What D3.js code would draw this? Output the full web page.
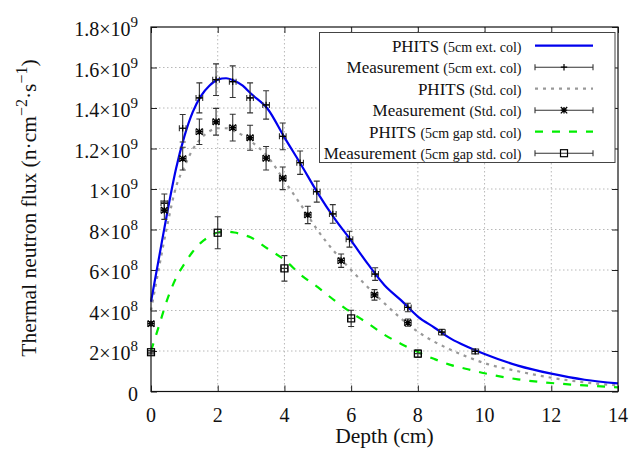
<!DOCTYPE html>
<html><head><meta charset="utf-8">
<script src="https://cdn.jsdelivr.net/npm/d3@7"></script>
<style>body{margin:0;background:#fff}svg{display:block}text{font-family:"Liberation Serif","Times New Roman",serif;fill:#111}</style>
</head><body><svg id="c" width="634" height="456"></svg>
<script>
// ---- data (flux in units of 1e8 n/cm2/s) ----
const xTicks = [0,2,4,6,8,10,12,14];
const yTicks = [0,2e8,4e8,6e8,8e8,1e9,1.2e9,1.4e9,1.6e9,1.8e9];
const yTickMant = ["0","2","4","6","8","1","1.2","1.4","1.6","1.8"];
const yTickExp  = ["","8","8","8","8","9","9","9","9","9"];

const phitsDepth = [0,0.25,0.5,0.75,1,1.25,1.5,1.75,2,2.25,2.5,2.75,3,3.5,4,4.5,5,5.5,6,6.5,7,7.5,8,8.5,9,9.5,10,11,12,13,14];
const phitsExt = [4.43,6.7,8.95,11.0,12.6,13.8,14.6,15.1,15.4,15.47,15.35,15.1,14.7,13.95,12.55,11.2,9.8,8.55,7.45,6.3,5.25,4.5,3.7,3.15,2.6,2.2,1.85,1.28,0.88,0.58,0.4];
const phitsStd = [4.0,6.2,8.3,10.1,11.1,11.95,12.5,12.85,13.0,13.0,12.85,12.65,12.35,11.6,10.4,9.2,7.95,6.9,6.0,5.15,4.35,3.6,2.95,2.45,2.05,1.7,1.4,1.0,0.68,0.45,0.3];
const phitsGap = [2.0,3.3,4.6,5.6,6.3,6.9,7.35,7.65,7.85,7.9,7.85,7.75,7.6,7.05,6.5,5.75,5.15,4.5,3.9,3.37,2.8,2.35,1.95,1.6,1.3,1.1,0.9,0.6,0.42,0.3,0.2];

const measExtDepth = [0.4,0.95,1.45,1.95,2.45,2.97,3.45,3.95,4.47,4.97,5.45,5.95,6.72,7.7,8.72,9.72];
const measExt      = [9.3,13.0,14.5,15.4,15.3,14.5,14.15,12.6,11.3,9.87,8.77,7.52,5.8,4.15,2.93,1.98];
const measExtErr   = [0.45,0.68,0.74,0.78,0.78,0.74,0.7,0.66,0.58,0.52,0.46,0.39,0.31,0.21,0.14,0.12];

const measStdDepth = [0,0.4,0.95,1.45,1.95,2.45,2.97,3.45,3.95,4.7,5.7,6.7,7.7];
const measStd      = [3.35,8.95,11.5,12.83,13.32,13.03,12.53,11.52,10.53,8.72,6.46,4.77,3.4];
const measStdErr   = [0.1,0.45,0.56,0.63,0.66,0.66,0.62,0.58,0.56,0.43,0.33,0.26,0.18];

const measGapDepth = [0,2.0,4.0,6.0,8.0];
const measGap      = [1.94,7.84,6.08,3.61,1.87];
const measGapErr   = [0.08,0.79,0.63,0.4,0.18];

const depthErr = 0.1;
const unit = 1e8;

// ---- layout ----
const L=151, R=618, T=27, B=391.5;
const svg = d3.select("#c");
const x = d3.scaleLinear().domain([0,14]).range([L,R]);
const y = d3.scaleLinear().domain([0,1.8e9]).range([B,T]);

// grid
const grid = svg.append("g").attr("stroke","#b8b8b8").attr("stroke-width",1).attr("stroke-dasharray","1.5,2.5");
xTicks.slice(1,-1).forEach(t=>grid.append("line").attr("x1",x(t)).attr("x2",x(t)).attr("y1",T).attr("y2",B));
yTicks.slice(1,-1).forEach(t=>grid.append("line").attr("x1",L).attr("x2",R).attr("y1",y(t)).attr("y2",y(t)));

// axes via d3 (ticks inward)
const fmtNone = ()=> "";
svg.append("g").attr("transform",`translate(0,${B})`).call(d3.axisBottom(x).tickValues(xTicks).tickSize(-6).tickFormat(fmtNone)).call(g=>g.select(".domain").remove());
svg.append("g").attr("transform",`translate(0,${T})`).call(d3.axisTop(x).tickValues(xTicks).tickSize(-6).tickFormat(fmtNone)).call(g=>g.select(".domain").remove());
svg.append("g").attr("transform",`translate(${L},0)`).call(d3.axisLeft(y).tickValues(yTicks).tickSize(-6).tickFormat(fmtNone)).call(g=>g.select(".domain").remove());
svg.append("g").attr("transform",`translate(${R},0)`).call(d3.axisRight(y).tickValues(yTicks).tickSize(-6).tickFormat(fmtNone)).call(g=>g.select(".domain").remove());
svg.selectAll(".tick line").attr("stroke","#222");

// tick labels
xTicks.forEach(t=>svg.append("text").attr("x",x(t)).attr("y",B+30).attr("text-anchor","middle").attr("font-size",20).text(t));
yTicks.forEach((t,i)=>{
  const tx = svg.append("text").attr("x",138).attr("y",y(t)+9).attr("text-anchor","end").attr("font-size",20);
  if(yTickExp[i]===""){ tx.text(yTickMant[i]); return; }
  tx.append("tspan").text(yTickMant[i]+"\u00d710");
  tx.append("tspan").attr("dy",-9).attr("font-size",15).text(yTickExp[i]);
});

// axis titles
svg.append("text").attr("x",(L+R)/2).attr("y",443).attr("text-anchor","middle").attr("font-size",21.5).text("Depth (cm)");
const yt = svg.append("text").attr("transform",`translate(36,208) rotate(-90)`).attr("text-anchor","middle").attr("font-size",21.5);
yt.append("tspan").text("Thermal neutron flux (n\u00b7cm");
yt.append("tspan").attr("dy",-9).attr("font-size",16).text("\u22122");
yt.append("tspan").attr("dy",9).text("\u00b7s");
yt.append("tspan").attr("dy",-9).attr("font-size",16).text("\u22121");
yt.append("tspan").attr("dy",9).text(")");

// curves
const line = d3.line().x(d=>x(d[0])).y(d=>y(d[1]*unit)).curve(d3.curveMonotoneX);
const series = [
  {v:phitsStd, color:"#999999", dash:"3,5", w:2.2},
  {v:phitsGap, color:"#00ee00", dash:"8,9", w:2.2},
  {v:phitsExt, color:"#0000ee", dash:null, w:2.2}
];
series.forEach(s=>{
  svg.append("path").datum(phitsDepth.map((d,i)=>[d,s.v[i]])).attr("d",line)
    .attr("fill","none").attr("stroke",s.color).attr("stroke-width",s.w).attr("stroke-dasharray",s.dash);
});

// markers
function marker(g,cx,cy,type){
  const h=3.2;
  if(type==="plus"){
    g.append("path").attr("d",`M${cx-h},${cy}H${cx+h}M${cx},${cy-h}V${cy+h}`).attr("stroke","#000").attr("stroke-width",1.2);
  } else if(type==="star"){
    g.append("path").attr("d",`M${cx-h},${cy}H${cx+h}M${cx},${cy-h}V${cy+h}M${cx-h},${cy-h}L${cx+h},${cy+h}M${cx-h},${cy+h}L${cx+h},${cy-h}`).attr("stroke","#000").attr("stroke-width",1.3);
  } else {
    g.append("rect").attr("x",cx-3.5).attr("y",cy-3.5).attr("width",7).attr("height",7).attr("fill","none").attr("stroke","#000").attr("stroke-width",1.2);
  }
}
function errPoints(dep,val,err,type){
  const g = svg.append("g").attr("stroke","#333").attr("stroke-width",1.1).attr("fill","none");
  dep.forEach((d,i)=>{
    const cx=x(d), cy=y(val[i]*unit), y0=y((val[i]-err[i])*unit), y1=y((val[i]+err[i])*unit);
    const x0=x(d-depthErr), x1=x(d+depthErr), c=3;
    g.append("path").attr("d",`M${cx},${y0}V${y1}M${cx-c},${y0}H${cx+c}M${cx-c},${y1}H${cx+c}M${x0},${cy}H${x1}M${x0},${cy-c}V${cy+c}M${x1},${cy-c}V${cy+c}`);
    marker(g,cx,cy,type);
  });
}
errPoints(measExtDepth,measExt,measExtErr,"plus");
errPoints(measStdDepth,measStd,measStdErr,"star");
errPoints(measGapDepth,measGap,measGapErr,"box");

// frame
svg.append("rect").attr("x",L).attr("y",T).attr("width",R-L).attr("height",B-T).attr("fill","none").attr("stroke","#111").attr("stroke-width",1.2);

// legend
const lg = svg.append("g");
lg.append("rect").attr("x",319.5).attr("y",32.5).attr("width",295.5).attr("height",130).attr("fill","#fff").attr("stroke","#444").attr("stroke-width",1);
const legendItems = [
  {main:"PHITS", sub:"(5cm ext. col)", kind:"line", color:"#0000ee", dash:null},
  {main:"Measurement", sub:"(5cm ext. col)", kind:"plus"},
  {main:"PHITS", sub:"(Std. col)", kind:"line", color:"#999999", dash:"3,5"},
  {main:"Measurement", sub:"(Std. col)", kind:"star"},
  {main:"PHITS", sub:"(5cm gap std. col)", kind:"line", color:"#00ee00", dash:"8,9"},
  {main:"Measurement", sub:"(5cm gap std. col)", kind:"box"}
];
legendItems.forEach((it,i)=>{
  const cy = 45.7 + i*21.5;
  const t = lg.append("text").attr("x",521.5).attr("y",cy+6).attr("text-anchor","end").attr("font-size",17);
  t.append("tspan").text(it.main+" ");
  t.append("tspan").attr("font-size",14).text(it.sub);
  const x0=535, x1=593;
  if(it.kind==="line"){
    lg.append("line").attr("x1",x0).attr("x2",x1).attr("y1",cy).attr("y2",cy).attr("stroke",it.color).attr("stroke-width",2.2).attr("stroke-dasharray",it.dash);
  } else {
    const g = lg.append("g").attr("stroke","#333").attr("stroke-width",1.1).attr("fill","none");
    g.append("path").attr("d",`M${x0},${cy}H${x1}M${x0},${cy-3}V${cy+3}M${x1},${cy-3}V${cy+3}`);
    marker(g,(x0+x1)/2,cy,it.kind);
  }
});
</script></body></html>
